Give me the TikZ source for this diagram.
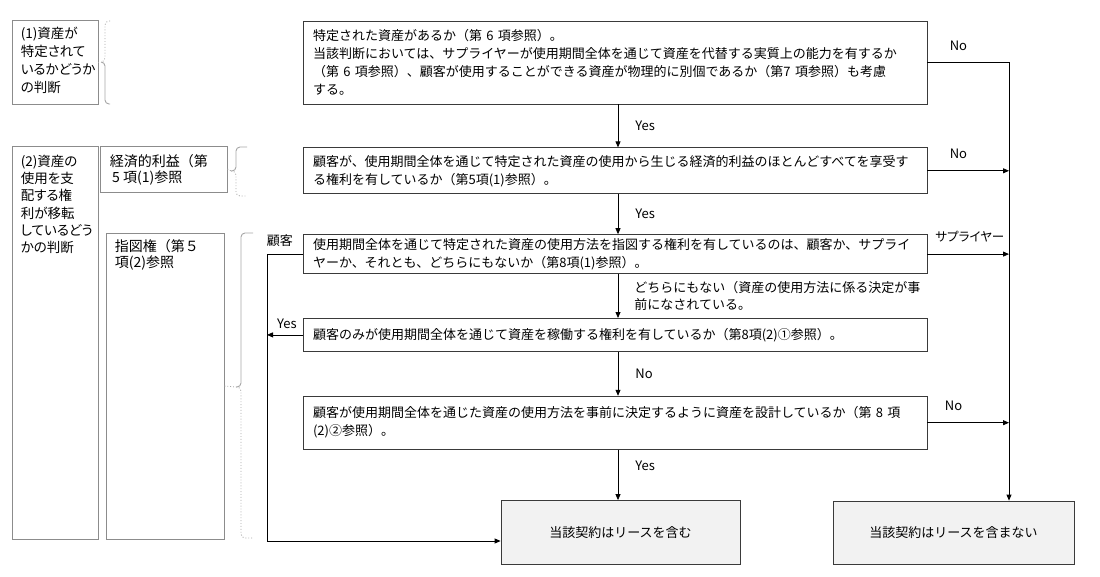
\documentclass[tikz,border=0pt]{standalone}
\usepackage{fontspec}
\setmainfont{Noto Sans CJK JP}
\newfontfamily\jpprop[RawFeature=+palt]{Noto Sans CJK JP}
\usepackage{tikz}
\usetikzlibrary{positioning}
\usetikzlibrary{arrows.meta,calc}
\definecolor{boxline}{HTML}{3A3A3A}
\definecolor{sideline}{HTML}{8C8C8C}
\definecolor{endfill}{HTML}{F2F2F2}
\definecolor{bracegray}{HTML}{A6A6A6}
\tikzset{
  arr/.style = {-{Triangle[length=6pt,width=5pt]}, line width=0.8pt},
  qbox/.style = {rectangle, draw=boxline, line width=0.8pt, minimum width=624pt,
    text width=604pt, inner xsep=10pt, inner ysep=3pt, align=left,
    font=\fontsize{13}{18}\selectfont},
  sidebox/.style = {rectangle, draw=sideline, line width=0.8pt, inner sep=0pt},
  sidetext/.style = {inner sep=0pt, align=left, anchor=north west},
  endbox/.style = {rectangle, draw=boxline, fill=endfill, line width=0.8pt,
    inner sep=0pt, font=\fontsize{13}{16}\selectfont},
  lbl/.style = {inner sep=1pt, font=\fontsize{13}{16}\selectfont},
  brc/.style = {draw=bracegray, line width=0.9pt, rounded corners=4pt},
}

\begin{document}
\begin{tikzpicture}[x=1pt, y=-1pt]
  \useasboundingbox (0,0) rectangle (1100,577);
  % left column
  \node (L1) [sidebox, minimum width=86pt, minimum height=84pt] at (55,62) {};
  \node (L1t) [sidetext, font=\jpprop\fontsize{13.5}{18}\selectfont,
    below right=7pt and 9pt of L1.north west] {(1)資産が\\特定されて\\いるかどうか\\の判断};
  \node (L2) [sidebox, minimum width=86pt, minimum height=393pt] at (55,342.5) {};
  \node (L2t) [sidetext, font=\jpprop\fontsize{13.5}{17.3}\selectfont,
    below right=9pt and 9pt of L2.north west] {(2)資産の\\使用を支\\配する権\\利が移転\\しているどう\\かの判断};
  \node (L2a) [sidebox, minimum width=127pt, minimum height=46pt] at (163.5,169) {};
  \node (L2at) [sidetext, font=\fontsize{14}{16}\selectfont,
    below right=9pt and 10pt of L2a.north west] {経済的利益（第\\\,5 項(1)参照};
  \node (L2b) [sidebox, minimum width=118pt, minimum height=306pt] at (165,386) {};
  \node (L2bt) [sidetext, font=\fontsize{14}{16}\selectfont,
    below right=7pt and 9pt of L2b.north west] {指図権（第５\\項(2)参照};

  % braces
  \coordinate (b1) at (101,62);
  \coordinate (b2) at (231,171);
  \coordinate (b3) at (236,387);
  \draw[brc, dotted] (L1.east) -- (b1);
  \draw[brc, dotted] (110,21) -- (105,21) -- (105,62) -- (b1);
  \draw[brc] (b1) -- (105,62) -- (105,104) -- (110,104);
  \draw[brc, dotted] (L2a.east) -- (b2);
  \draw[brc] (247,147) -- (236,147) -- (236,171) -- (b2);
  \draw[brc, dotted] (b2) -- (236,171) -- (236,196) -- (247,196);
  \draw[brc, dotted] (L2b.east) -- (b3);
  \draw[brc] (253,233) -- (241,233) -- (241,387) -- (b3);
  \draw[brc, dotted] (b3) -- (241,387) -- (241,538) -- (253,538);

  % questions
  \node (T1) [qbox, minimum height=83pt] at (615,62.5)
    {特定された資産があるか（第 6 項参照）。\\
     当該判断においては、サプライヤーが使用期間全体を通じて資産を代替する実質上の能力を有するか\\
     （第 6 項参照）、顧客が使用することができる資産が物理的に別個であるか（第7 項参照）も考慮\\
     する。};
  \node (T2) [qbox, minimum height=46pt, below=43pt of T1]
    {顧客が、使用期間全体を通じて特定された資産の使用から生じる経済的利益のほとんどすべてを享受す\\
     る権利を有しているか（第5項(1)参照）。};
  \node (T3) [qbox, minimum height=39pt, below=40pt of T2]
    {使用期間全体を通じて特定された資産の使用方法を指図する権利を有しているのは、顧客か、サプライ\\
     ヤーか、それとも、どちらにもないか（第8項(1)参照）。};
  \node (T4) [qbox, minimum height=33pt, below=44pt of T3]
    {顧客のみが使用期間全体を通じて資産を稼働する権利を有しているか（第8項(2)①参照）。};
  \node (T5) [qbox, minimum height=53pt, below=44pt of T4]
    {顧客が使用期間全体を通じた資産の使用方法を事前に決定するように資産を設計しているか（第 8 項\\
     (2)②参照）。};

  % results
  \node (B1) [endbox, minimum width=239pt, minimum height=64pt] at (620.5,532.5) {当該契約はリースを含む};
  \node (B2) [endbox, minimum width=241pt, minimum height=63pt] at (953.5,532.5) {当該契約はリースを含まない};

  \coordinate (xa) at (618,0);
  \coordinate (xr) at (1009,0);
  \coordinate (xl) at (267,541);

  % connectors
  \draw[arr] (T1.south -| xa) -- node[lbl, right=16pt] {Yes} (T2.north -| xa);
  \draw[arr] (T2.south -| xa) -- node[lbl, right=16pt] {Yes} (T3.north -| xa);
  \draw[arr] (T3.south -| xa) -- node[lbl, right=15pt, align=left, font=\fontsize{13}{17}\selectfont]
    {どちらにもない（資産の使用方法に係る決定が事\\前になされている。} (T4.north -| xa);
  \draw[arr] (T4.south -| xa) -- node[lbl, right=16pt] {No} (T5.north -| xa);
  \draw[arr] (T5.south -| xa) -- node[lbl, right=16pt, pos=.32] {Yes} (B1.north -| xa);

  \draw[arr] (T1.east) -| node[lbl, above=10pt, pos=.19] {No} (B2.north -| xr);
  \draw[arr] (T2.east) -- node[lbl, above=11pt, pos=.38] {No} (T2.east -| xr);
  \draw[arr] (T3.east) -- node[lbl, above=11pt, pos=.52, font=\jpprop\fontsize{12.5}{16}\selectfont] {サプライヤー} (T3.east -| xr);
  \draw[arr] (T5.east) -- node[lbl, above=11pt, pos=.32] {No} (T5.east -| xr);

  \draw[arr] (T4.west) -- node[lbl, above=5pt, pos=.44] {Yes} (T4.west -| xl);
  \draw[arr] (T3.west) -- node[lbl, above=6pt, pos=.64] {顧客} (T3.west -| xl) -- (xl) -- (xl -| B1.west);
\end{tikzpicture}
\end{document}
